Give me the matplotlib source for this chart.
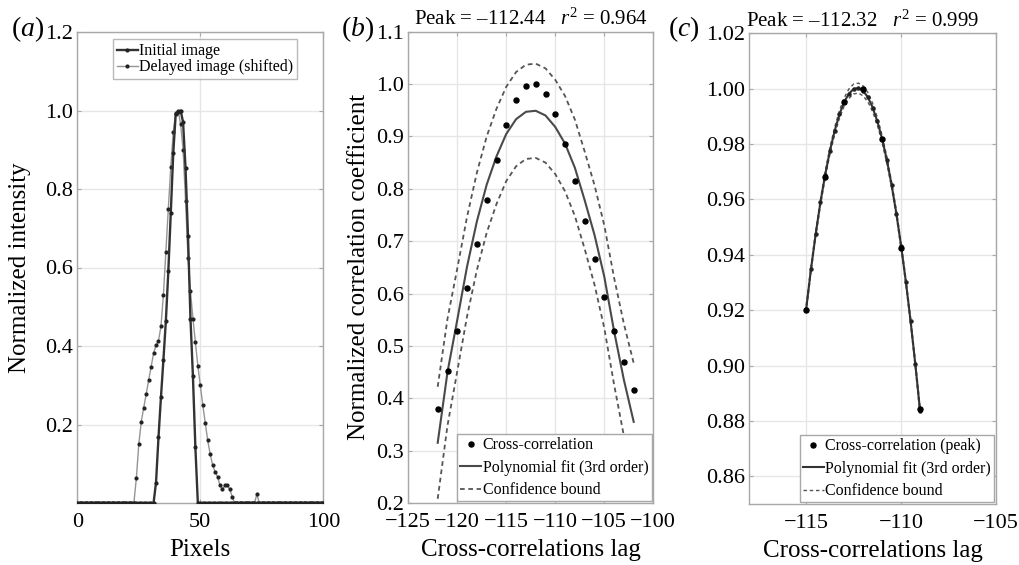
import numpy as np
import matplotlib
matplotlib.use("Agg")
import matplotlib.pyplot as plt

plt.rcParams["font.family"] = ["Liberation Serif", "DejaVu Serif"]
plt.rcParams["mathtext.fontset"] = "custom"
plt.rcParams["mathtext.rm"] = "Liberation Serif"
plt.rcParams["mathtext.it"] = "Liberation Serif:italic"

# ---- panel (a): intensity profiles ----
pixels = np.arange(0, 101)
initial_start = 32
initial_peak = [0.052, 0.167, 0.269, 0.364, 0.464, 0.59, 0.739, 0.891, 0.99, 0.997,
                1.0, 0.97, 0.853, 0.68, 0.47, 0.323, 0.142]
delayed_start = 24
delayed_peak = [0.063, 0.15, 0.207, 0.243, 0.277, 0.313, 0.347, 0.381, 0.402, 0.413,
                0.45, 0.53, 0.64, 0.75, 0.856, 0.945, 0.993, 1.0, 0.965, 0.90,
                0.77, 0.625, 0.54, 0.47, 0.41, 0.35, 0.30, 0.25, 0.205, 0.16,
                0.125, 0.097, 0.08, 0.067, 0.045, 0.035, 0.045, 0.045, 0.035, 0.015]
delayed_bump_x = 73
delayed_bump = 0.022

# ---- panel (b): cross-correlation around peak ----
b_lag = np.arange(-122, -101)
b_corr = [0.38, 0.452, 0.528, 0.61, 0.695, 0.778, 0.855, 0.921, 0.969, 0.996, 1.0,
          0.981, 0.943, 0.885, 0.815, 0.738, 0.665, 0.593, 0.528, 0.47, 0.415]
b_fit = [0.315, 0.45, 0.55, 0.652, 0.738, 0.808, 0.862, 0.905, 0.933, 0.947, 0.949,
         0.94, 0.918, 0.886, 0.84, 0.778, 0.712, 0.632, 0.528, 0.435, 0.355]
b_band = [0.107, 0.102, 0.098, 0.095, 0.093, 0.092, 0.091, 0.09, 0.09, 0.09, 0.09,
          0.09, 0.09, 0.091, 0.092, 0.093, 0.095, 0.098, 0.102, 0.107, 0.112]
b_title = "Peak = \u2013112.44   $r^2$ = 0.964"

# ---- panel (c): refined peak ----
c_lag = np.arange(-115, -108.99, 1.0)
c_corr = [0.920, 0.968, 0.9952, 1.0, 0.982, 0.9423, 0.8843]
c_fit_lag = np.arange(-115, -108.99, 0.25)
c_fit = [0.9206, 0.9348, 0.9476, 0.9590, 0.9690, 0.9776, 0.9848, 0.9907, 0.9952,
         0.9982, 0.9999, 1.0002, 0.9992, 0.9969, 0.9932, 0.9882, 0.9818, 0.9742,
         0.9652, 0.9549, 0.9432, 0.9303, 0.9160, 0.9004, 0.8835]
c_band = [0.0012, 0.0011, 0.0011, 0.0011, 0.0012, 0.0012, 0.0013, 0.0014, 0.0015,
          0.0017, 0.0018, 0.0018, 0.0018, 0.0017, 0.0015, 0.0014, 0.0013, 0.0012,
          0.0011, 0.0011, 0.0011, 0.0011, 0.0012, 0.0013, 0.0015]
c_title = "Peak = \u2013112.32   $r^2$ = 0.999"

TICK_FS = 16
LABEL_FS = 18
LEG_FS = 11.5
GRID = "#e6e6e6"
SPINE = "#a8a8a8"


def style_axes(ax):
    ax.grid(True, color=GRID, lw=1.0)
    ax.set_axisbelow(True)
    for s in ax.spines.values():
        s.set_color(SPINE)
        s.set_linewidth(1.0)
    ax.tick_params(direction="in", length=3, color=SPINE, labelsize=TICK_FS,
                   top=True, right=True, pad=3)
    ax.tick_params(axis="x", pad=7)


def style_legend(leg):
    leg.get_frame().set_linewidth(1.0)


fig = plt.figure(figsize=(10.19, 5.65), dpi=100)
W, H = 1019, 565


def add_axes(left, top, right, bottom):
    return fig.add_axes([left / W, 1 - bottom / H, (right - left) / W, (bottom - top) / H])


# (a)
initial = np.zeros(len(pixels))
initial[initial_start:initial_start + len(initial_peak)] = initial_peak
delayed = np.zeros(len(pixels))
delayed[delayed_start:delayed_start + len(delayed_peak)] = delayed_peak
delayed[delayed_bump_x] = delayed_bump

ax1 = add_axes(77.3, 32, 323.3, 503)
style_axes(ax1)
ax1.plot(pixels, delayed, color="#959595", lw=1.0, marker="o", ms=2.0,
         mfc="#222222", mec="#222222", label="Delayed image (shifted)", zorder=3)
ax1.plot(pixels, initial, color="#333333", lw=1.7, marker="o", ms=2.0,
         mfc="#222222", mec="#222222", label="Initial image", zorder=4)
ax1.set_xlim(0, 100)
ax1.set_ylim(0, 1.2)
ax1.set_xticks([0, 50, 100])
ax1.set_yticks([0.2, 0.4, 0.6, 0.8, 1.0, 1.2])
ax1.set_yticklabels(["0.2", "0.4", "0.6", "0.8", "1.0", "1.2"])
ax1.set_xlabel("Pixels", fontsize=LABEL_FS, labelpad=5)
ax1.set_ylabel("Normalized intensity", fontsize=LABEL_FS)
ax1.yaxis.set_label_coords(-0.19, 0.5)
h, l = ax1.get_legend_handles_labels()
leg = ax1.legend(h[::-1], l[::-1], loc="upper center", fontsize=LEG_FS, frameon=True,
                 fancybox=False, edgecolor=SPINE, handlelength=1.3, handletextpad=0.1,
                 labelspacing=0.0, borderpad=0.25, borderaxespad=0.45,
                 bbox_to_anchor=(0.52, 1.0))
style_legend(leg)

# (b)
b_fit_arr = np.array(b_fit)
b_band_arr = np.array(b_band)
ax2 = add_axes(408.3, 31.7, 653.3, 503)
style_axes(ax2)
ax2.plot(b_lag, b_corr, "o", color="black", ms=3.6, label="Cross-correlation", zorder=4)
ax2.plot(b_lag, b_fit_arr, "-", color="#4a4a4a", lw=1.5, label="Polynomial fit (3rd order)", zorder=3)
ax2.plot(b_lag, b_fit_arr + b_band_arr, color="#555555", lw=1.3, ls=(0, (2.6, 2.0)),
         label="Confidence bound", zorder=3)
ax2.plot(b_lag, b_fit_arr - b_band_arr, color="#555555", lw=1.3, ls=(0, (2.6, 2.0)), zorder=3)
ax2.set_xlim(-125, -100)
ax2.set_ylim(0.2, 1.1)
ax2.set_xticks([-125, -120, -115, -110, -105, -100])
ax2.set_yticks(np.arange(0.2, 1.101, 0.1))
ax2.set_yticklabels([f"{v:.1f}" for v in np.arange(0.2, 1.101, 0.1)])
ax2.set_xlabel("Cross-correlations lag", fontsize=LABEL_FS, labelpad=5)
ax2.set_ylabel("Normalized correlation coefficient", fontsize=LABEL_FS)
ax2.yaxis.set_label_coords(-0.155, 0.5)
ax2.set_title(b_title, fontsize=15, pad=5)
leg = ax2.legend(loc="lower right", fontsize=LEG_FS, frameon=True, fancybox=False,
                 edgecolor=SPINE, framealpha=1.0, handlelength=1.3, handletextpad=0.1,
                 labelspacing=0.4, borderpad=0.2, borderaxespad=0.1)
style_legend(leg)

# (c)
c_fit_arr = np.array(c_fit)
c_band_arr = np.array(c_band)
ax3 = add_axes(749.3, 33.3, 996, 504)
style_axes(ax3)
ax3.plot(c_fit_lag, c_fit_arr + c_band_arr, color="#555555", lw=1.0, ls=(0, (2.5, 2)),
         label="Confidence bound", zorder=3)
ax3.plot(c_fit_lag, c_fit_arr - c_band_arr, color="#555555", lw=1.0, ls=(0, (2.5, 2)), zorder=3)
ax3.plot(c_fit_lag, c_fit_arr, "-", color="#333333", lw=1.5,
         label="Polynomial fit (3rd order)", zorder=4)
ax3.plot(c_fit_lag, c_fit_arr, "o", color="#222222", ms=2.2, zorder=5)
ax3.plot(c_lag, c_corr, "o", color="black", ms=3.6, label="Cross-correlation (peak)", zorder=6)
ax3.set_xlim(-118, -105)
ax3.set_ylim(0.85, 1.02)
ax3.set_xticks([-115, -110, -105])
ax3.set_yticks(np.arange(0.86, 1.0201, 0.02))
ax3.set_yticklabels([f"{v:.2f}" for v in np.arange(0.86, 1.0201, 0.02)])
ax3.set_xlabel("Cross-correlations lag", fontsize=LABEL_FS, labelpad=5)
ax3.set_title(c_title, fontsize=15, pad=5, x=0.46)
h, l = ax3.get_legend_handles_labels()
order = [2, 1, 0]
leg = ax3.legend([h[i] for i in order], [l[i] for i in order], loc="lower right",
                 fontsize=LEG_FS, frameon=True, fancybox=False, edgecolor=SPINE,
                 framealpha=1.0, handlelength=1.3, handletextpad=0.1,
                 labelspacing=0.4, borderpad=0.2, borderaxespad=0.1)
style_legend(leg)

# panel labels
for x, lab in [(11, "($a$)"), (341, "($b$)"), (668, "($c$)")]:
    fig.text(x / W, 1 - 29 / H, lab, fontsize=20, va="center", ha="left")

fig.savefig("out.png", dpi=100)
